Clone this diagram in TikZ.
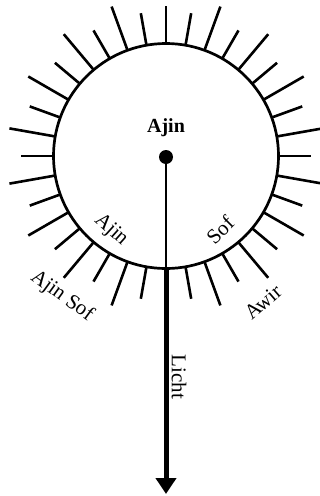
\documentclass[tikz,border=0pt]{standalone}
\usepackage{fontspec}
\setmainfont{Liberation Serif}
\usetikzlibrary{arrows.meta}
\begin{document}
\begin{tikzpicture}[x=1pt,y=-1pt,
  ray/.style={line width=2.6pt},
  lbl/.style={font=\fontsize{21}{24}\selectfont, inner sep=0pt}]
\useasboundingbox (0,0) rectangle (320,496);
\coordinate (c) at (166,156);
\draw[line width=2.7pt] (c) circle[radius=112.5];
\foreach \k in {-17,...,17}{
  \pgfmathsetmacro\a{-(90+10*\k)}
  \pgfmathsetmacro\L{\k==0 ? 150 : (mod(abs(\k),2)==1 ? 145 : 159)}
  \draw[ray, shift={(c)}] (\a:112.5) -- (\a:\L);
}
\node[circle, fill, inner sep=0pt, minimum size=14pt] (dot) at (166,157) {};
\coordinate (b) at (166,268.5);
\coordinate (tip) at (166,494);
\draw[line width=2.3pt] (dot) -- (b);
\draw[line width=5pt, -{Triangle[width=20pt,length=16pt]}] (b) -- (tip);
\node[lbl, font=\fontsize{20}{24}\selectfont\bfseries, anchor=base] (top) at (166,132) {Ajin};
\node[lbl, rotate=-42] (ajin) at (111,230) {Ajin};
\node[lbl, rotate=45] (sof) at (220,230) {Sof};
\node[lbl, rotate=-36] (ajinsof) at (62,296) {Ajin Sof};
\node[lbl, rotate=41] (awir) at (263,302) {Awir};
\node[lbl, rotate=-90] (licht) at (179,377) {Licht};
\end{tikzpicture}
\end{document}
